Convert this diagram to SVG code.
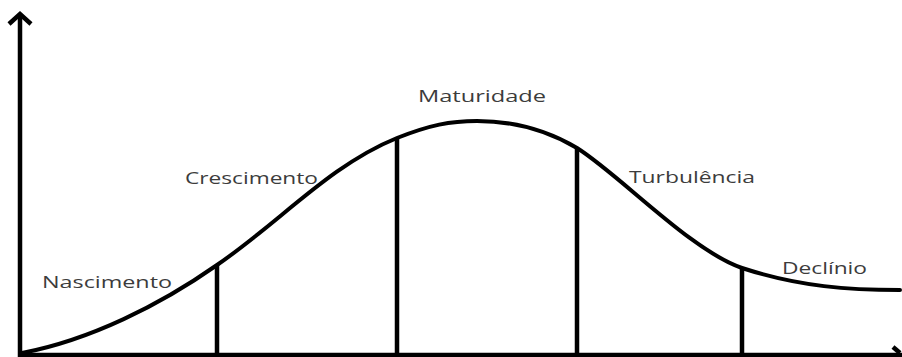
<svg xmlns="http://www.w3.org/2000/svg" width="902" height="357" viewBox="0 0 902 357">
<style>
.ax{stroke:#000;stroke-width:4.5;fill:none;stroke-linecap:butt}
.div{stroke:#000;stroke-width:4.5;fill:none}
.curve{stroke:#000;stroke-width:4;fill:none;stroke-linecap:round}
.lbl{font-family:"Open Sans","DejaVu Sans",sans-serif;font-size:16px;fill:#3c3c3c}
</style>
<rect width="902" height="357" fill="#fff"/>
<g id="axes">
<line class="ax" x1="20" y1="16" x2="20" y2="357"/>
<polyline class="ax" points="9,24 20,14 31,24" stroke-linejoin="miter"/>
<line class="ax" x1="18" y1="355" x2="902" y2="355"/>
<polyline class="ax" points="893,347 900,353"/>
</g>
<g id="connectors">
<path class="curve" d="M22,353 C90,340 160,305 217,265 C280,222 330,165 397,138 C430,125 450,121 477,121 C515,121 550,132 577,148 C620,175 690,250 742,268 C800,287 850,290 900,290"/>
<line class="div" x1="217" y1="265" x2="217" y2="355"/>
<line class="div" x1="397" y1="138" x2="397" y2="355"/>
<line class="div" x1="577" y1="148" x2="577" y2="355"/>
<line class="div" x1="742" y1="268" x2="742" y2="355"/>
</g>
<g id="nascimento"><text class="lbl" x="42" y="288" textLength="130" lengthAdjust="spacingAndGlyphs">Nascimento</text></g>
<g id="crescimento"><text class="lbl" x="185" y="184" textLength="133" lengthAdjust="spacingAndGlyphs">Crescimento</text></g>
<g id="maturidade"><text class="lbl" x="418" y="102" textLength="128" lengthAdjust="spacingAndGlyphs">Maturidade</text></g>
<g id="turbulencia"><text class="lbl" x="629" y="183" textLength="126" lengthAdjust="spacingAndGlyphs">Turbulência</text></g>
<g id="declinio"><text class="lbl" x="782" y="274" textLength="85" lengthAdjust="spacingAndGlyphs">Declínio</text></g>
</svg>
